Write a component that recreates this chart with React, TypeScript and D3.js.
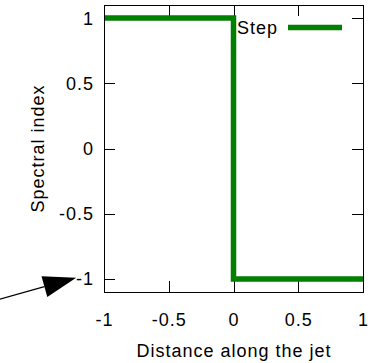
import React from "react";
import * as d3 from "d3";

// Step function: spectral index along the jet
const stepX = [-1, 0, 1];
const stepY = [1, -1, -1];
const xTicks = [-1, -0.5, 0, 0.5, 1];
const yTicks = [-1, -0.5, 0, 0.5, 1];
const seriesName = "Step";
const xTitle = "Distance along the jet";
const yTitle = "Spectral index";
// Annotation arrow in data coordinates: [from, to]
const arrowFrom = [-1.805, -1.155];
const arrowTo = [-1.215, -0.99];

const W = 382;
const H = 363;
const FONT = "'Liberation Sans', Arial, sans-serif";
const FS = 18;
const LS = 1;
const GREEN = "#008000";

export default function App() {
  const left = 104, right = 363, top = 5, bottom = 292;
  const x = d3.scaleLinear().domain([-1, 1]).range([left, right]);
  const y = d3.scaleLinear().domain([-1.1, 1.1]).range([bottom, top]);

  const pts: [number, number][] = stepX.map((v, i) => [v, stepY[i]]);
  const line = d3
    .line<[number, number]>()
    .x((d) => x(d[0]))
    .y((d) => y(d[1]))
    .curve(d3.curveStepAfter);

  const tickLen = 11;
  const crisp = (v: number) => Math.round(v) + 0.5;

  // arrow geometry
  const ax0 = x(arrowFrom[0]), ay0 = y(arrowFrom[1]);
  const ax1 = x(arrowTo[0]), ay1 = y(arrowTo[1]);
  const dx = ax1 - ax0, dy = ay1 - ay0;
  const len = Math.hypot(dx, dy);
  const ux = dx / len, uy = dy / len;
  const headLen = 33, headHalf = 10.7;
  const bx = ax1 - ux * headLen, by = ay1 - uy * headLen;
  const head = [
    [ax1, ay1],
    [bx - uy * headHalf, by + ux * headHalf],
    [bx + uy * headHalf, by - ux * headHalf],
  ];

  return (
    <svg
      width={W}
      height={H}
      style={{ position: "absolute", left: 0, top: 0, background: "#fff" }}
      fontFamily={FONT}
      fontSize={FS}
      letterSpacing={LS}
    >
      <rect x={0} y={0} width={W} height={H} fill="#fff" />
      {/* ticks, mirrored on all sides */}
      <g stroke="#000" strokeWidth={1}>
        {xTicks.map((t) => (
          <g key={"xt" + t}>
            <line x1={crisp(x(t))} x2={crisp(x(t))} y1={bottom} y2={bottom - tickLen} />
            <line x1={crisp(x(t))} x2={crisp(x(t))} y1={top} y2={top + tickLen} />
          </g>
        ))}
        {yTicks.map((t) => (
          <g key={"yt" + t}>
            <line x1={left} x2={left + tickLen} y1={crisp(y(t))} y2={crisp(y(t))} />
            <line x1={right} x2={right - tickLen} y1={crisp(y(t))} y2={crisp(y(t))} />
          </g>
        ))}
      </g>
      {/* tick labels */}
      {yTicks.map((t) => (
        <text key={"yl" + t} x={94} y={y(t)} dy="0.36em" textAnchor="end" fill="#000">
          {String(t)}
        </text>
      ))}
      {xTicks.map((t) => (
        <text key={"xl" + t} x={x(t) + LS / 2} y={326} textAnchor="middle" fill="#000">
          {String(t)}
        </text>
      ))}
      {/* axis titles */}
      <text x={(left + right) / 2 + LS / 2} y={357} textAnchor="middle" fill="#000">
        {xTitle}
      </text>
      <text
        transform={`translate(43.5, ${(top + bottom) / 2}) rotate(-90)`}
        textAnchor="middle"
        fill="#000"
      >
        {yTitle}
      </text>
      {/* series */}
      <path d={line(pts) ?? ""} fill="none" stroke={GREEN} strokeWidth={5.5} />
      {/* legend */}
      <text x={237} y={33.5} fill="#000">
        {seriesName}
      </text>
      <line x1={288} x2={342} y1={27.5} y2={27.5} stroke={GREEN} strokeWidth={5.5} />
      {/* frame */}
      <rect
        x={crisp(left)}
        y={crisp(top)}
        width={Math.round(right) - Math.round(left)}
        height={Math.round(bottom) - Math.round(top)}
        fill="none"
        stroke="#000"
        strokeWidth={1}
      />
      {/* annotation arrow */}
      <line x1={ax0} y1={ay0} x2={bx} y2={by} stroke="#000" strokeWidth={1.2} />
      <polygon points={head.map((p) => p.join(",")).join(" ")} fill="#000" />
    </svg>
  );
}
